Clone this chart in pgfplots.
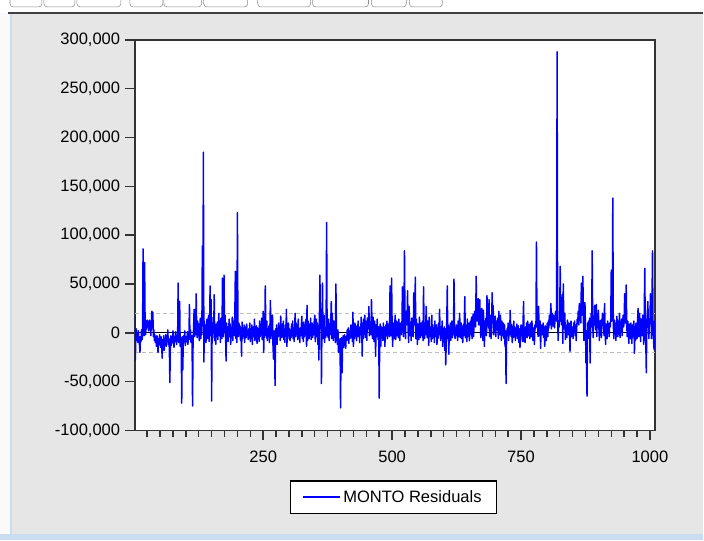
\documentclass[border=0pt]{standalone}
\usepackage{fontspec}
\setmainfont{Liberation Sans}
\usepackage{pgfplots}
\pgfplotsset{compat=1.18}
\definecolor{bgray}{HTML}{E6E6E6}
\definecolor{chromeblue}{HTML}{C9DCF2}
\definecolor{bandgray}{HTML}{BDBDBD}
\definecolor{framegray}{HTML}{333333}
\newcommand\lbl{\fontsize{12.4}{14}\selectfont}
\begin{document}
\begin{tikzpicture}[x=0.75pt,y=0.75pt]
% window around the graph (pixel units, y upwards)
\fill[bgray] (0,0) rectangle (704,541);
\fill[white] (0,528) rectangle (704,541);
\fill[white!96!gray] (0,0) rectangle (10,528);
\fill[chromeblue] (10,0) rectangle (12,528);
\fill[chromeblue] (0,0) rectangle (704,6);
\draw[black!75, line width=1.5] (8,527.5) -- (704,527.5);
\begin{scope}
\clip (0,528) rectangle (704,541);
\foreach \a/\b in {10/42,44/75,77/121,130/163,164/202,204/248,258/311,313/369,372/407,410/443}
  \draw[black!45, rounded corners=2.5] (\a,534) rectangle (\b,560);
\end{scope}
\begin{axis}[
  at={(101.25pt,82.5pt)}, anchor=south west,
  scale only axis, width=390.75pt, height=293.25pt,
  xmin=1, xmax=1010, ymin=-100, ymax=300,
  axis background/.style={fill=white},
  axis line style={framegray, line width=1.1pt},
  tick align=outside, xtick pos=bottom, ytick pos=left,
  major tick length=7.5pt, minor tick length=5pt,
  every tick/.style={framegray, line width=1.1pt},
  every minor tick/.style={framegray, line width=1.1pt},
  xtick={250,500,750,1000}, xticklabels={250,500,750,1000},
  minor xtick={25,50,...,1000},
  xticklabel style={yshift=-4.5pt},
  ytick={-100,-50,...,300},
  yticklabels={{-100,000},{-50,000},0,{50,000},{100,000},{150,000},{200,000},{250,000},{300,000}},
  ticklabel style={font=\lbl},
  legend style={at={(0.4966,-0.128)}, anchor=north, draw=black, line width=0.9pt,
    font=\lbl, inner xsep=9pt, inner ysep=5pt},
  legend image code/.code={\draw[#1, line width=1.2pt] (0pt,0pt) -- (27.75pt,0pt);},
]
\addplot[bandgray, line width=0.75pt, dash pattern=on 3pt off 2.25pt, forget plot] coordinates {(1,20) (1010,20)};
\addplot[bandgray, line width=0.75pt, dash pattern=on 3pt off 2.25pt, forget plot] coordinates {(1,-20) (1010,-20)};
\addplot[black, line width=0.75pt, forget plot] coordinates {(1,0) (1010,0)};
% MONTO residuals, thousands
\addplot[blue, line width=1.1pt, line join=round] table[row sep=\\, header=false, x expr=\coordindex+1, y index=0] {
18\\-28\\-5\\4\\-8\\-3\\-10\\2\\-6\\-12\\-20\\-4\\-9\\3\\-7\\-2\\86\\5\\-3\\72\\
8\\-2\\12\\4\\13\\6\\10\\2\\13\\7\\12\\-3\\9\\22\\5\\21\\-4\\3\\-8\\-2\\
-10\\-5\\-14\\-3\\-8\\-20\\-6\\-12\\-2\\-9\\-15\\-4\\-11\\-26\\-7\\-13\\-3\\-18\\-6\\-10\\
-2\\-14\\-5\\-9\\3\\-12\\-6\\-17\\-51\\-8\\-3\\-13\\-5\\-10\\2\\-7\\-15\\-4\\-9\\1\\
-6\\-12\\-3\\-8\\51\\-10\\-2\\32\\-14\\-5\\-9\\-72\\-4\\-38\\-11\\-3\\-8\\2\\-13\\-6\\
-4\\-9\\1\\-12\\-5\\-2\\29\\-7\\3\\-10\\-6\\-3\\-75\\-8\\5\\24\\-4\\8\\-2\\40\\
6\\-5\\12\\-3\\9\\-8\\4\\15\\-6\\10\\-2\\89\\7\\185\\-30\\12\\-4\\8\\-10\\5\\
14\\-6\\3\\18\\-9\\6\\48\\-3\\34\\-70\\10\\-5\\16\\2\\39\\-8\\5\\-12\\9\\-4\\
11\\-7\\4\\20\\-3\\8\\-10\\15\\2\\-6\\56\\12\\-4\\59\\7\\18\\-2\\-29\\10\\-5\\
6\\-9\\3\\14\\-4\\9\\-12\\5\\-2\\16\\-8\\7\\12\\-3\\20\\63\\-6\\8\\-10\\123\\
5\\-4\\10\\-2\\7\\-8\\3\\-24\\11\\-6\\4\\-1\\8\\-10\\2\\6\\-5\\9\\-3\\1\\
-7\\4\\-2\\10\\-9\\3\\-5\\8\\-12\\2\\6\\-4\\14\\-8\\1\\-3\\7\\-11\\5\\-6\\
3\\-9\\12\\-4\\8\\-2\\15\\-7\\4\\22\\-20\\6\\-3\\48\\9\\-5\\12\\-8\\4\\-2\\
7\\-10\\5\\33\\-6\\11\\-3\\18\\-14\\-27\\2\\-9\\-54\\4\\-6\\8\\-12\\3\\-4\\10\\
-3\\6\\-8\\17\\2\\-5\\9\\-4\\12\\-7\\3\\-10\\8\\-2\\24\\-14\\5\\-6\\10\\-3\\
4\\-8\\2\\-5\\9\\-3\\12\\-6\\3\\-9\\7\\20\\-4\\10\\-2\\6\\-7\\14\\-5\\3\\
-10\\5\\-3\\8\\17\\-6\\2\\-9\\11\\-4\\6\\-2\\14\\-14\\28\\-8\\12\\5\\-6\\9\\
-3\\15\\-7\\4\\10\\-5\\8\\-2\\12\\18\\-9\\6\\14\\-4\\10\\-12\\7\\-28\\15\\59\\
8\\23\\-52\\12\\51\\-6\\10\\18\\-10\\4\\-5\\9\\113\\-3\\7\\-5\\14\\-8\\3\\-2\\
10\\32\\-6\\20\\4\\-8\\12\\-3\\6\\-10\\50\\5\\-4\\-12\\3\\-20\\-8\\-14\\-6\\-77\\
-12\\-5\\-41\\-9\\-3\\-15\\-6\\-2\\-10\\-16\\-4\\-8\\3\\-7\\5\\-11\\2\\-6\\-3\\8\\
-5\\4\\-9\\21\\-14\\3\\-6\\10\\-2\\7\\-8\\4\\-4\\12\\-3\\6\\-10\\5\\-2\\16\\
8\\-24\\10\\-6\\14\\3\\18\\-5\\12\\6\\-8\\15\\9\\4\\27\\-3\\11\\7\\-2\\34\\
10\\-6\\16\\3\\-9\\12\\5\\-24\\8\\-4\\14\\2\\-7\\6\\-67\\-3\\9\\-14\\6\\-2\\
4\\-8\\10\\-5\\6\\-14\\3\\8\\-3\\12\\-6\\5\\-2\\10\\-4\\48\\7\\-3\\56\\9\\
-14\\4\\10\\-6\\8\\18\\-7\\5\\12\\-3\\9\\-5\\14\\2\\-8\\10\\4\\-2\\6\\47\\
12\\-4\\18\\84\\10\\-6\\22\\8\\14\\43\\5\\-10\\27\\6\\-3\\11\\-8\\15\\3\\9\\
-4\\41\\8\\12\\57\\-6\\14\\5\\-12\\9\\3\\-7\\16\\2\\-5\\10\\-3\\6\\12\\-8\\
47\\4\\-6\\10\\-2\\27\\8\\-5\\12\\3\\-13\\16\\-4\\6\\2\\-9\\18\\-6\\8\\-3\\
5\\-10\\12\\-4\\6\\8\\-12\\3\\-6\\10\\-2\\24\\5\\-8\\4\\-5\\12\\-14\\2\\-9\\
6\\-18\\4\\-33\\-10\\12\\48\\-6\\8\\-22\\5\\-3\\10\\-8\\4\\12\\-5\\6\\-2\\55\\
10\\-6\\4\\-3\\8\\2\\-8\\12\\-4\\6\\20\\-5\\3\\10\\-6\\4\\-10\\8\\-3\\12\\
37\\-5\\8\\3\\-9\\14\\-4\\6\\10\\-8\\5\\12\\-2\\16\\-6\\8\\19\\-4\\10\\22\\
14\\6\\58\\20\\12\\26\\35\\8\\24\\34\\15\\-5\\18\\25\\10\\-8\\23\\6\\-14\\12\\
4\\15\\-3\\38\\10\\22\\5\\34\\-4\\12\\18\\-6\\8\\41\\10\\28\\-2\\14\\6\\17\\
-4\\8\\12\\3\\15\\-6\\22\\10\\-2\\18\\5\\-8\\12\\4\\-3\\10\\-6\\8\\-14\\2\\
-52\\-6\\4\\-3\\10\\-8\\6\\-2\\23\\5\\-4\\8\\-10\\3\\-5\\12\\-2\\6\\-8\\4\\
-3\\9\\-6\\2\\7\\-10\\4\\-15\\-4\\8\\-2\\6\\-9\\12\\32\\-9\\3\\-10\\6\\-4\\
10\\-5\\12\\-3\\5\\8\\-6\\10\\2\\-4\\12\\6\\-8\\5\\3\\-12\\8\\4\\10\\93\\
6\\14\\-4\\27\\9\\-3\\12\\-16\\5\\8\\-2\\6\\10\\-5\\3\\-14\\7\\2\\-8\\4\\
10\\-4\\12\\5\\18\\8\\15\\30\\4\\12\\20\\7\\18\\10\\5\\14\\22\\20\\12\\288\\
15\\-8\\10\\6\\18\\68\\12\\20\\8\\39\\-11\\50\\10\\4\\20\\-7\\8\\3\\-5\\13\\
6\\-2\\10\\4\\-19\\8\\12\\-4\\6\\2\\-6\\10\\4\\12\\-3\\8\\-8\\5\\14\\10\\
22\\8\\30\\14\\20\\10\\51\\18\\24\\58\\12\\-8\\20\\31\\6\\-31\\-31\\-65\\10\\8\\
12\\-6\\15\\-31\\4\\20\\6\\84\\10\\-5\\14\\8\\28\\12\\3\\29\\-4\\18\\10\\23\\
6\\-8\\12\\4\\13\\-5\\10\\20\\8\\14\\-3\\30\\6\\-12\\9\\3\\-6\\12\\5\\8\\
-4\\10\\6\\14\\64\\12\\20\\138\\8\\-6\\13\\4\\10\\-8\\6\\17\\2\\-4\\12\\7\\
20\\-5\\10\\4\\14\\-3\\8\\18\\6\\12\\40\\10\\20\\49\\8\\-4\\12\\6\\-11\\9\\
4\\-6\\10\\2\\-11\\8\\-4\\6\\12\\-21\\5\\-8\\10\\3\\-6\\12\\25\\-4\\8\\20\\
5\\-9\\14\\10\\-3\\18\\8\\-12\\20\\66\\6\\-10\\-41\\12\\20\\32\\8\\-6\\14\\10\\
40\\20\\-6\\30\\84\\10\\-8\\-17\\12\\-15\\
};
\addlegendentry{MONTO Residuals}
\end{axis}
\end{tikzpicture}
\end{document}
